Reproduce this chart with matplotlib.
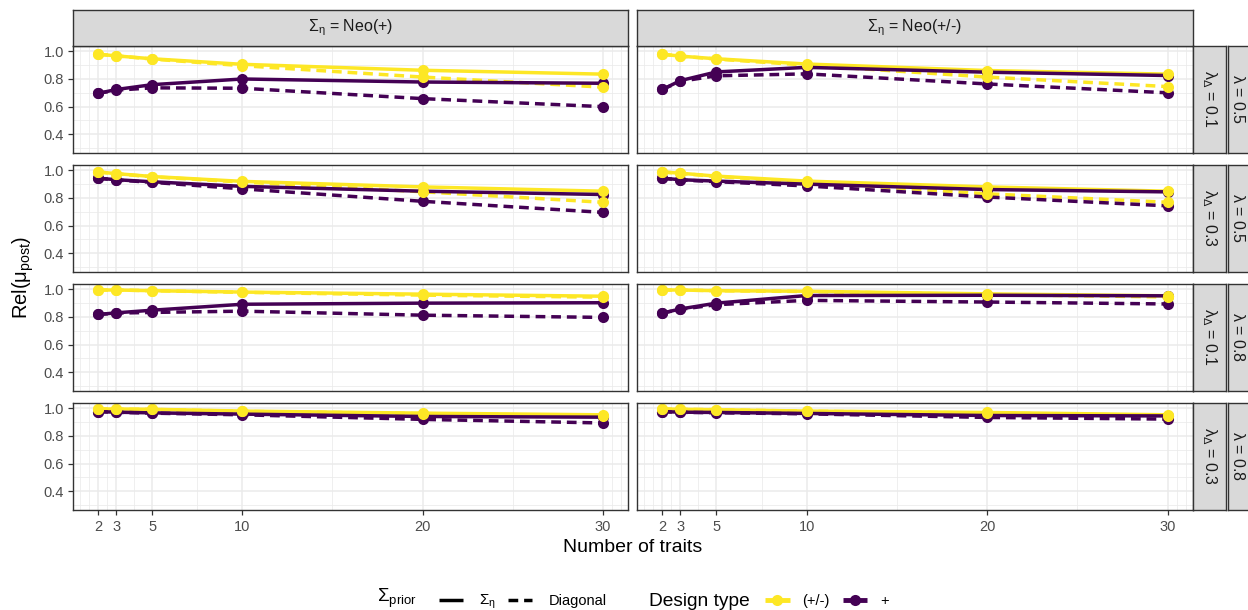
import matplotlib
matplotlib.use("Agg")
import matplotlib.pyplot as plt
from matplotlib.lines import Line2D
import numpy as np

plt.rcParams['font.family'] = ['Liberation Sans', 'DejaVu Sans']
plt.rcParams['mathtext.fontset'] = 'custom'
plt.rcParams['mathtext.rm'] = 'Liberation Sans'
plt.rcParams['mathtext.it'] = 'Liberation Sans'
plt.rcParams['mathtext.bf'] = 'Liberation Sans:bold'

# ---------------------------------------------------------------- data
n_traits = [2, 3, 5, 10, 20, 30]
x_breaks = [2, 3, 5, 10, 20, 30]
y_breaks = [0.4, 0.6, 0.8, 1.0]

col_labels = [r'$\Sigma_{\eta}$ = Neo(+)', r'$\Sigma_{\eta}$ = Neo(+/-)']
lambda_labels = [r'$\lambda$ = 0.5', r'$\lambda$ = 0.5', r'$\lambda$ = 0.8', r'$\lambda$ = 0.8']
lambda_delta_labels = [r'$\lambda_{\Delta}$ = 0.1', r'$\lambda_{\Delta}$ = 0.3',
                       r'$\lambda_{\Delta}$ = 0.1', r'$\lambda_{\Delta}$ = 0.3']

design_types = ['(+/-)', '+']
prior_types = [r'$\Sigma_{\eta}$', 'Diagonal']

# Rel(mu_post) per facet: [column][row][n_traits]
# design (+/-), prior Sigma_eta
pm_sigma = [
    [[0.979, 0.967, 0.946, 0.906, 0.863, 0.835],
     [0.988, 0.976, 0.955, 0.920, 0.880, 0.849],
     [0.995, 0.995, 0.990, 0.980, 0.965, 0.950],
     [0.995, 0.995, 0.993, 0.980, 0.965, 0.953]],
    [[0.979, 0.965, 0.946, 0.908, 0.861, 0.835],
     [0.988, 0.979, 0.958, 0.922, 0.880, 0.849],
     [0.995, 0.995, 0.990, 0.986, 0.967, 0.953],
     [0.995, 0.993, 0.990, 0.980, 0.970, 0.953]],
]
# design (+/-), prior Diagonal
pm_diag = [
    [[0.979, 0.967, 0.944, 0.896, 0.814, 0.741],
     [0.988, 0.975, 0.953, 0.915, 0.845, 0.769],
     [0.995, 0.995, 0.990, 0.978, 0.958, 0.943],
     [0.995, 0.994, 0.992, 0.978, 0.962, 0.945]],
    [[0.979, 0.965, 0.944, 0.900, 0.814, 0.745],
     [0.988, 0.978, 0.955, 0.915, 0.830, 0.769],
     [0.995, 0.995, 0.990, 0.984, 0.962, 0.945],
     [0.995, 0.993, 0.990, 0.979, 0.966, 0.948]],
]
# design +, prior Sigma_eta
plus_sigma = [
    [[0.696, 0.724, 0.759, 0.800, 0.778, 0.769],
     [0.943, 0.932, 0.917, 0.884, 0.849, 0.825],
     [0.818, 0.830, 0.849, 0.892, 0.900, 0.903],
     [0.976, 0.972, 0.967, 0.958, 0.941, 0.936]],
    [[0.724, 0.788, 0.851, 0.884, 0.849, 0.825],
     [0.943, 0.932, 0.922, 0.900, 0.861, 0.844],
     [0.828, 0.858, 0.900, 0.955, 0.957, 0.953],
     [0.976, 0.972, 0.970, 0.963, 0.948, 0.945]],
]
# design +, prior Diagonal
plus_diag = [
    [[0.696, 0.719, 0.736, 0.733, 0.658, 0.600],
     [0.943, 0.930, 0.913, 0.866, 0.776, 0.696],
     [0.818, 0.828, 0.833, 0.842, 0.813, 0.797],
     [0.976, 0.971, 0.965, 0.953, 0.920, 0.894]],
    [[0.724, 0.783, 0.823, 0.837, 0.764, 0.700],
     [0.943, 0.930, 0.918, 0.887, 0.807, 0.743],
     [0.828, 0.855, 0.889, 0.920, 0.908, 0.894],
     [0.976, 0.971, 0.968, 0.960, 0.934, 0.922]],
]

# ---------------------------------------------------------------- style
YELLOW = '#FDE725'
PURPLE = '#440154'
GRID_MAJOR = '#EBEBEB'
BORDER = '#333333'
STRIP_BG = '#D9D9D9'
TICK_TXT = '#4D4D4D'
LW = 2.5
MS = 8
DASH = (2.8, 1.7)

W, H = 1248, 610
fig = plt.figure(figsize=(W / 100, H / 100), dpi=100)
fig.patch.set_facecolor('white')


def px_box(x0, y0, x1, y1):
    return [x0 / W, 1 - y1 / H, (x1 - x0) / W, (y1 - y0) / H]


col_px = [(73, 628), (637, 1193)]
row_px = [(45.5, 153), (164.5, 272), (283.5, 391), (402.5, 510)]

x_lim = (2 - 0.05 * 28, 30 + 0.05 * 28)
y_lim = (0.265, 1.042)
x_minor = [1, 1.5, 2.5, 4, 7.5, 15, 25, 30.5, 31]
y_minor = [0.3, 0.5, 0.7, 0.9]


def strip(box, text, rotation=0, text_xy=None):
    sa = fig.add_axes(box)
    sa.set_facecolor(STRIP_BG)
    sa.set_xticks([])
    sa.set_yticks([])
    for s in sa.spines.values():
        s.set_color(BORDER)
        s.set_linewidth(1.0)
    tx, ty = text_xy if text_xy else (0.5, 0.5)
    sa.text(tx, ty, text, transform=sa.transAxes, ha='center', va='center',
            rotation=rotation, fontsize=11.5, color='#1A1A1A')
    return sa


series = [
    (pm_sigma, YELLOW, '-'),
    (pm_diag, YELLOW, '--'),
    (plus_sigma, PURPLE, '-'),
    (plus_diag, PURPLE, '--'),
]

for ci, (cx0, cx1) in enumerate(col_px):
    for ri, (ry0, ry1) in enumerate(row_px):
        ax = fig.add_axes(px_box(cx0, ry0, cx1, ry1))
        ax.set_xlim(*x_lim)
        ax.set_ylim(*y_lim)
        ax.set_facecolor('white')
        # grid
        for xv in x_minor:
            ax.axvline(xv, color=GRID_MAJOR, lw=0.55, zorder=0)
        for yv in y_minor:
            ax.axhline(yv, color=GRID_MAJOR, lw=0.55, zorder=0)
        for xv in x_breaks:
            ax.axvline(xv, color=GRID_MAJOR, lw=1.1, zorder=0)
        for yv in y_breaks:
            ax.axhline(yv, color=GRID_MAJOR, lw=1.1, zorder=0)

        # lines: (+/-) group first, then +
        for data, color, ls in series:
            ln, = ax.plot(n_traits, data[ci][ri], color=color, lw=LW,
                          solid_capstyle='butt', dash_capstyle='butt', zorder=2)
            if ls == '--':
                ln.set_dashes(DASH)
        # points
        for data, color, ls in [series[2], series[3], series[0], series[1]]:
            ax.plot(n_traits, data[ci][ri], 'o', color=color, ms=MS,
                    markeredgewidth=0, zorder=3)

        for s in ax.spines.values():
            s.set_color(BORDER)
            s.set_linewidth(1.0)
            s.set_zorder(5)

        ax.set_xticks(x_breaks)
        ax.set_yticks(y_breaks)
        ax.tick_params(axis='both', which='both', color=BORDER, width=0.9,
                       length=3.5, labelsize=10.5, labelcolor=TICK_TXT)
        ax.tick_params(axis='x', pad=4)
        ax.tick_params(axis='y', pad=3)
        if ci == 0:
            ax.set_yticklabels([f'{v:.1f}' for v in y_breaks])
        else:
            ax.tick_params(axis='y', length=0, labelleft=False)
        if ri == 3:
            ax.set_xticklabels([str(v) for v in x_breaks])
        else:
            ax.tick_params(axis='x', length=0, labelbottom=False)

        if ri == 0:
            strip(px_box(cx0, 10, cx1, ry0), col_labels[ci])
        if ci == 1:
            strip(px_box(1193, ry0, 1226, ry1), lambda_delta_labels[ri], rotation=-90)
            strip(px_box(1228, ry0, 1262, ry1), lambda_labels[ri], rotation=-90,
                  text_xy=(0.29, 0.5))

# axis titles
fig.text(633 / W, 1 - 552.5 / H, 'Number of traits', ha='center', va='baseline',
         fontsize=14, color='black')
fig.text(23 / W, 1 - 277.75 / H, r'Rel($\mu_{\mathrm{post}}$)', ha='center', va='center',
         rotation=90, fontsize=14.5, color='black')

# legends
def fx(p):
    return p / W


def fy(p):
    return 1 - p / H


key_y = 599.5
fig.text(fx(377), fy(602), r'$\Sigma_{\mathrm{prior}}$', ha='left', va='baseline',
         fontsize=13.5, color='black')
fig.add_artist(Line2D([fx(439), fx(463)], [fy(key_y)] * 2, color='black', lw=LW,
                      solid_capstyle='butt', transform=fig.transFigure))
fig.text(fx(479), fy(605), prior_types[0], ha='left', va='baseline', fontsize=11)
dl = Line2D([fx(508), fx(532)], [fy(key_y)] * 2, color='black', lw=LW,
            dash_capstyle='butt', transform=fig.transFigure)
dl.set_dashes(DASH)
fig.add_artist(dl)
fig.text(fx(549), fy(605), prior_types[1], ha='left', va='baseline', fontsize=10.5)

fig.text(fx(649), fy(606), 'Design type', ha='left', va='baseline', fontsize=13.8)
for (k0, k1, t0), color, lab in zip([(765, 790, 802), (843, 867, 880)], [YELLOW, PURPLE],
                                    design_types):
    fig.add_artist(Line2D([fx(k0), fx(k1)], [fy(key_y)] * 2, color=color, lw=LW + 1,
                          solid_capstyle='butt', transform=fig.transFigure))
    fig.add_artist(Line2D([fx((k0 + k1) / 2)], [fy(key_y)], color=color, marker='o',
                          ms=MS, markeredgewidth=0, linestyle='none',
                          transform=fig.transFigure))
    fig.text(fx(t0), fy(605), lab, ha='left', va='baseline', fontsize=10.5)

fig.savefig('out.png', dpi=100, facecolor='white')
